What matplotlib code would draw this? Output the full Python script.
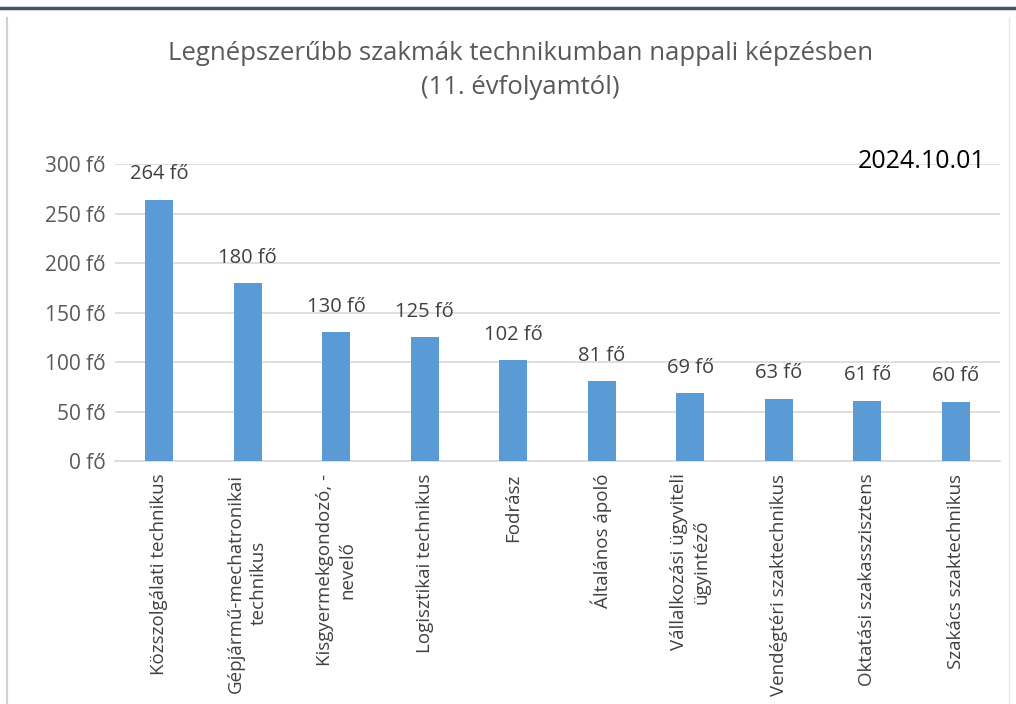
import matplotlib.pyplot as plt
from matplotlib.lines import Line2D

plt.rcParams['font.family'] = ['Open Sans', 'DejaVu Sans']

szakmak = ["Közszolgálati technikus", "Gépjármű-mechatronikai\ntechnikus",
           "Kisgyermekgondozó, -\nnevelő", "Logisztikai technikus", "Fodrász",
           "Általános ápoló", "Vállalkozási ügyviteli\nügyintéző",
           "Vendégtéri szaktechnikus", "Oktatási szakasszisztens",
           "Szakács szaktechnikus"]
letszam = [264, 180, 130, 125, 102, 81, 69, 63, 61, 60]
y_ticks = [0, 50, 100, 150, 200, 250, 300]

fig = plt.figure(figsize=(10.16, 7.04), dpi=100)
ax = fig.add_axes([0.1132, 0.345, 0.871, 0.422])

x = list(range(len(szakmak)))
ax.bar(x, letszam, width=0.32, color='#5B9BD5', zorder=3)
for xi, v in zip(x, letszam):
    ax.annotate(f"{v} fő", (xi, v), xytext=(0, 11), textcoords='offset points',
                ha='center', va='bottom', fontsize=14.5, color='#404040')

ax.set_xlim(-0.5, len(szakmak) - 0.5)
ax.set_ylim(0, 300)
ax.set_yticks(y_ticks)
ax.set_yticklabels([f"{t} fő" for t in y_ticks], fontsize=15, color='#595959')
ax.set_xticks(x)
ax.set_xticklabels(szakmak, rotation=90, fontsize=13.5, color='#404040',
                   ha='center', va='top', multialignment='center',
                   linespacing=1.35)
ax.tick_params(axis='y', length=0, pad=7)
ax.tick_params(axis='x', length=0, pad=9)
ax.grid(axis='y', color='#D9D9D9', linewidth=1.2, zorder=0)
for s in ['top', 'right', 'left']:
    ax.spines[s].set_visible(False)
ax.spines['bottom'].set_color('#D9D9D9')
ax.spines['bottom'].set_linewidth(1.2)

fig.text(0.512, 0.9, "Legnépszerűbb szakmák technikumban nappali képzésben\n(11. évfolyamtól)",
         ha='center', va='center', fontsize=18.5, color='#595959', linespacing=1.45)
fig.text(0.97, 0.771, "2024.10.01", ha='right', va='center', fontsize=18, color='#000000')

# keret
fig.add_artist(Line2D([0, 1], [0.988, 0.988], color='#44546A', linewidth=2.5, transform=fig.transFigure))
fig.add_artist(Line2D([0.007, 0.007], [0, 0.975], color='#D0D0D0', linewidth=1.5, transform=fig.transFigure))
fig.add_artist(Line2D([0.993, 0.993], [0, 0.975], color='#E6E6E6', linewidth=1.0, transform=fig.transFigure))

fig.savefig("out.png", dpi=100)
